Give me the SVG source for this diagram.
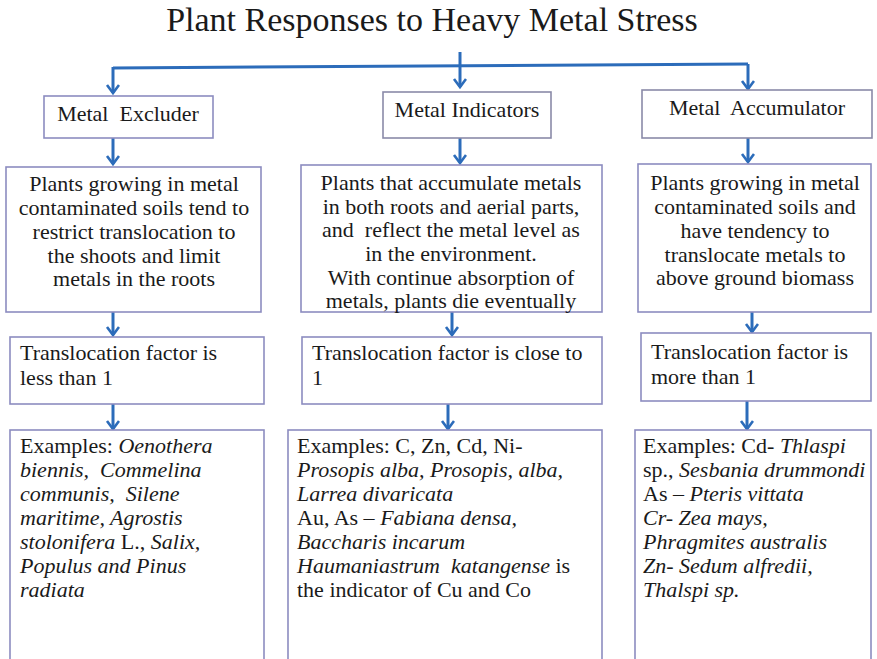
<svg xmlns="http://www.w3.org/2000/svg" width="877" height="659" viewBox="0 0 877 659">
<style>
  text { fill: #1a1a1a; font-size: 22px; white-space: pre; }
  .title { font-size: 34px; }
  .c { text-anchor: middle; }
  .i { font-style: italic; }
  .box { fill: #ffffff; stroke: #8c8cc0; stroke-width: 1.6; }
  .hbox { fill: #ffffff; stroke: #8a8aa8; stroke-width: 1.6; }
  .conn { fill: none; stroke: #2c6cba; stroke-width: 3; }
</style>
<defs>
  <marker id="arr" markerUnits="userSpaceOnUse" markerWidth="16" markerHeight="16" refX="9" refY="7" orient="auto">
    <path d="M1,1 L9,7 L1,13" fill="none" stroke="#2c6cba" stroke-width="2.6"/>
  </marker>
</defs>
<rect width="877" height="659" fill="#ffffff"/>
<g font-family="Liberation Serif, Tinos, DejaVu Serif, serif">
<text class="title c" x="432" y="31">Plant Responses to Heavy Metal Stress</text>

<g id="connectors">
  <path class="conn" d="M113,68 L748,64"/>
  <path class="conn" d="M460,52 V87" marker-end="url(#arr)"/>
  <path class="conn" d="M113,67 V93" marker-end="url(#arr)"/>
  <path class="conn" d="M748,64 V89" marker-end="url(#arr)"/>
  <path class="conn" d="M113,138 V164" marker-end="url(#arr)"/>
  <path class="conn" d="M460,138 V163" marker-end="url(#arr)"/>
  <path class="conn" d="M748,138 V162" marker-end="url(#arr)"/>
  <path class="conn" d="M113,312 V335" marker-end="url(#arr)"/>
  <path class="conn" d="M452,312 V335" marker-end="url(#arr)"/>
  <path class="conn" d="M752,312 V332" marker-end="url(#arr)"/>
  <path class="conn" d="M113,404 V429" marker-end="url(#arr)"/>
  <path class="conn" d="M448,404 V429" marker-end="url(#arr)"/>
  <path class="conn" d="M747,401 V429" marker-end="url(#arr)"/>
</g>

<g id="excluder">
  <rect class="box" x="44" y="96" width="169" height="42"/>
  <text class="c" x="128" y="121">Metal  Excluder</text>
</g>
<g id="indicators">
  <rect class="hbox" x="383" y="92" width="168" height="46"/>
  <text class="c" x="467" y="117">Metal Indicators</text>
</g>
<g id="accumulator">
  <rect class="hbox" x="642" y="90" width="230" height="48"/>
  <text class="c" x="757" y="115">Metal  Accumulator</text>
</g>

<g id="excluder-desc">
  <rect class="box" x="6" y="167" width="255" height="145"/>
  <text class="c" x="134" y="191">Plants growing in metal</text>
  <text class="c" x="134" y="215">contaminated soils tend to</text>
  <text class="c" x="134" y="239">restrict translocation to</text>
  <text class="c" x="134" y="263">the shoots and limit</text>
  <text class="c" x="134" y="286">metals in the roots</text>
</g>
<g id="indicators-desc">
  <rect class="box" x="301" y="165" width="301" height="147"/>
  <text class="c" x="451" y="190">Plants that accumulate metals</text>
  <text class="c" x="451" y="214">in both roots and aerial parts,</text>
  <text class="c" x="451" y="237">and  reflect the metal level as</text>
  <text class="c" x="451" y="261">in the environment.</text>
  <text class="c" x="451" y="285">With continue absorption of</text>
  <text class="c" x="451" y="308">metals, plants die eventually</text>
</g>
<g id="accumulator-desc">
  <rect class="box" x="638" y="164" width="233" height="148"/>
  <text class="c" x="755" y="190">Plants growing in metal</text>
  <text class="c" x="755" y="214">contaminated soils and</text>
  <text class="c" x="755" y="238">have tendency to</text>
  <text class="c" x="755" y="262">translocate metals to</text>
  <text class="c" x="755" y="285">above ground biomass</text>
</g>

<g id="excluder-tf">
  <rect class="box" x="10" y="337" width="254" height="67"/>
  <text x="20" y="360">Translocation factor is</text>
  <text x="20" y="385">less than 1</text>
</g>
<g id="indicators-tf">
  <rect class="box" x="302" y="337" width="300" height="67"/>
  <text x="312" y="360">Translocation factor is close to</text>
  <text x="312" y="385">1</text>
</g>
<g id="accumulator-tf">
  <rect class="box" x="641" y="333" width="230" height="68"/>
  <text x="651" y="359">Translocation factor is</text>
  <text x="651" y="384">more than 1</text>
</g>

<g id="excluder-examples">
  <rect class="box" x="10" y="430" width="254" height="240"/>
  <text x="20" y="453">Examples: <tspan class="i">Oenothera</tspan></text>
  <text x="20" y="477" class="i">biennis,  Commelina</text>
  <text x="20" y="501" class="i">communis,  Silene</text>
  <text x="20" y="525" class="i">maritime, Agrostis</text>
  <text x="20" y="549"><tspan class="i">stolonifera</tspan> L., <tspan class="i">Salix,</tspan></text>
  <text x="20" y="573" class="i">Populus and Pinus</text>
  <text x="20" y="597" class="i">radiata</text>
</g>
<g id="indicators-examples">
  <rect class="box" x="288" y="430" width="314" height="240"/>
  <text x="297" y="453">Examples: C, Zn, Cd, Ni-</text>
  <text x="297" y="477" class="i">Prosopis alba, Prosopis, alba,</text>
  <text x="297" y="501" class="i">Larrea divaricata</text>
  <text x="297" y="525">Au, As – <tspan class="i">Fabiana densa,</tspan></text>
  <text x="297" y="549" class="i">Baccharis incarum</text>
  <text x="297" y="573"><tspan class="i">Haumaniastrum  katangense</tspan> is</text>
  <text x="297" y="597">the indicator of Cu and Co</text>
</g>
<g id="accumulator-examples">
  <rect class="box" x="635" y="430" width="236" height="240"/>
  <text x="643" y="453">Examples: Cd- <tspan class="i">Thlaspi</tspan></text>
  <text x="643" y="477">sp., <tspan class="i">Sesbania drummondi</tspan></text>
  <text x="643" y="501">As – <tspan class="i">Pteris vittata</tspan></text>
  <text x="643" y="525" class="i">Cr- Zea mays,</text>
  <text x="643" y="549" class="i">Phragmites australis</text>
  <text x="643" y="573" class="i">Zn- Sedum alfredii,</text>
  <text x="643" y="597" class="i">Thalspi sp.</text>
</g>
</g>
</svg>
